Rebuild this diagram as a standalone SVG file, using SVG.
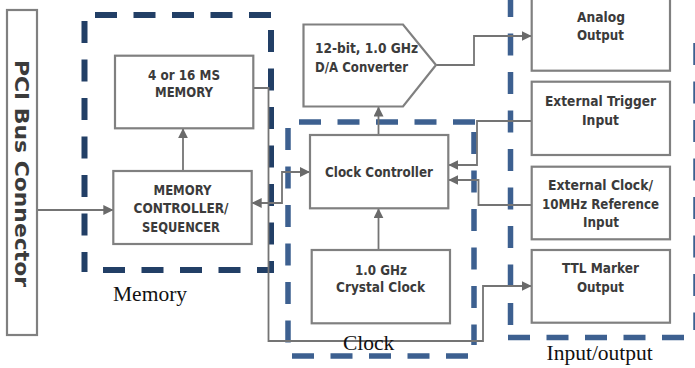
<svg xmlns="http://www.w3.org/2000/svg" width="695" height="368" viewBox="0 0 695 368">
<defs>
<marker id="ah" viewBox="0 0 10 10" refX="10" refY="5" markerWidth="10" markerHeight="10" orient="auto-start-reverse" markerUnits="userSpaceOnUse">
<path d="M0,0 L10,5 L0,10 z" fill="#6a6a6a"/>
</marker>
<style>
.box{fill:#fff;stroke:#808080;stroke-width:2.2}
.t{font-family:"DejaVu Sans","Liberation Sans",sans-serif;font-weight:bold;font-size:14px;fill:#3b3b3b;text-anchor:middle}
.lbl{font-family:"Liberation Serif","Times New Roman",serif;font-size:21.5px;fill:#111}
.c{fill:none;stroke:#747474;stroke-width:1.8}
.ca{fill:none;stroke:#747474;stroke-width:1.8;marker-end:url(#ah)}
.dm{stroke:#223f66;stroke-width:6;stroke-dasharray:22 16.5;fill:none}
.dc{stroke:#3d6090;stroke-width:5.5;stroke-dasharray:22 16.5;fill:none}
</style>
</defs>
<rect width="695" height="368" fill="#fff"/>

<g id="group-memory">
<line class="dm" x1="95" y1="15" x2="272" y2="15"/>
<line class="dm" x1="84.5" y1="21" x2="84.5" y2="272"/>
<line class="dm" x1="271" y1="30" x2="271" y2="272"/>
<line class="dm" x1="103" y1="270" x2="274" y2="270"/>
</g>
<g id="group-clock">
<line class="dc" x1="299" y1="122" x2="476" y2="122"/>
<line class="dc" x1="288" y1="128" x2="288" y2="356"/>
<line class="dc" x1="474" y1="132" x2="474" y2="345"/>
<line class="dc" x1="292" y1="356" x2="472" y2="356"/>
</g>
<g id="group-io">
<line class="dc" x1="510.5" y1="-5" x2="510.5" y2="332"/>
<line class="dc" x1="508" y1="337.5" x2="700" y2="337.5"/>
<line class="dc" x1="696" y1="43" x2="696" y2="330"/>
</g>

<g id="connectors">
<line class="ca" x1="37" y1="210" x2="113.3" y2="210"/>
<line class="ca" x1="183" y1="171" x2="183" y2="128.3"/>
<path d="M251.7,203 H282 V172 H310" class="ca" style="marker-start:url(#ah)"/>
<path class="ca" d="M253.3,88 H268.5 V341 H483 V286 H531.7"/>
<line class="ca" x1="378.5" y1="135" x2="378.5" y2="106.5"/>
<line class="ca" x1="378.5" y1="250" x2="378.5" y2="208.3"/>
<path class="ca" d="M436,65 H474 V36 H531.7"/>
<path class="ca" d="M531.7,121 H477 V165 H448.3"/>
<path class="ca" d="M531.7,205 H478.5 V180 H448.3"/>
</g>

<g id="pci">
<rect class="box" x="7" y="10" width="30" height="325"/>
<text class="t" style="font-size:20px;text-anchor:start" transform="translate(15,60) rotate(90)" textLength="227" lengthAdjust="spacingAndGlyphs">PCI Bus Connector</text>
</g>

<g id="memory">
<rect class="box" x="115" y="55.7" width="138.3" height="72.6"/>
<text class="t" x="184" y="80" textLength="72" lengthAdjust="spacingAndGlyphs">4 or 16 MS</text>
<text class="t" x="184" y="97" textLength="58" lengthAdjust="spacingAndGlyphs">MEMORY</text>
</g>

<g id="memctrl">
<rect class="box" x="113.3" y="171" width="138.4" height="73"/>
<text class="t" x="182.5" y="195" textLength="58" lengthAdjust="spacingAndGlyphs">MEMORY</text>
<text class="t" x="181" y="213" textLength="95" lengthAdjust="spacingAndGlyphs">CONTROLLER/</text>
<text class="t" x="181" y="232" textLength="78" lengthAdjust="spacingAndGlyphs">SEQUENCER</text>
</g>

<g id="dac">
<polygon class="box" points="303.5,24.5 403,24.5 436,65 403,106.5 303.5,106.5"/>
<text class="t" x="366.5" y="53" textLength="103" lengthAdjust="spacingAndGlyphs">12-bit, 1.0 GHz</text>
<text class="t" x="361.5" y="72" textLength="93" lengthAdjust="spacingAndGlyphs">D/A Converter</text>
</g>

<g id="clockctrl">
<rect class="box" x="310" y="135" width="138.3" height="73.3"/>
<text class="t" x="379" y="177" textLength="108" lengthAdjust="spacingAndGlyphs">Clock Controller</text>
</g>

<g id="crystal">
<rect class="box" x="311.7" y="250" width="138.3" height="73.3"/>
<text class="t" x="381" y="275" textLength="52" lengthAdjust="spacingAndGlyphs">1.0 GHz</text>
<text class="t" x="380.5" y="292" textLength="89" lengthAdjust="spacingAndGlyphs">Crystal Clock</text>
</g>

<g id="analog">
<rect class="box" x="531.7" y="-3" width="138.3" height="73.7"/>
<text class="t" x="601" y="22" textLength="48" lengthAdjust="spacingAndGlyphs">Analog</text>
<text class="t" x="600.5" y="40" textLength="47" lengthAdjust="spacingAndGlyphs">Output</text>
</g>

<g id="exttrig">
<rect class="box" x="531.7" y="81.7" width="138.3" height="73.3"/>
<text class="t" x="600.5" y="106" textLength="111" lengthAdjust="spacingAndGlyphs">External Trigger</text>
<text class="t" x="600.5" y="124.5" textLength="37" lengthAdjust="spacingAndGlyphs">Input</text>
</g>

<g id="extclk">
<rect class="box" x="531.7" y="166.7" width="138.3" height="72.6"/>
<text class="t" x="600.5" y="190" textLength="105" lengthAdjust="spacingAndGlyphs">External Clock/</text>
<text class="t" x="600.5" y="209" textLength="117" lengthAdjust="spacingAndGlyphs">10MHz Reference</text>
<text class="t" x="601" y="227" textLength="36" lengthAdjust="spacingAndGlyphs">Input</text>
</g>

<g id="ttl">
<rect class="box" x="531.7" y="250" width="138.3" height="72.7"/>
<text class="t" x="600.5" y="273" textLength="77" lengthAdjust="spacingAndGlyphs">TTL Marker</text>
<text class="t" x="600.5" y="292" textLength="47" lengthAdjust="spacingAndGlyphs">Output</text>
</g>

<g id="labels">
<text class="lbl" x="113" y="301">Memory</text>
<text class="lbl" x="343" y="350">Clock</text>
<text class="lbl" x="546.5" y="360">Input/output</text>
</g>
</svg>
